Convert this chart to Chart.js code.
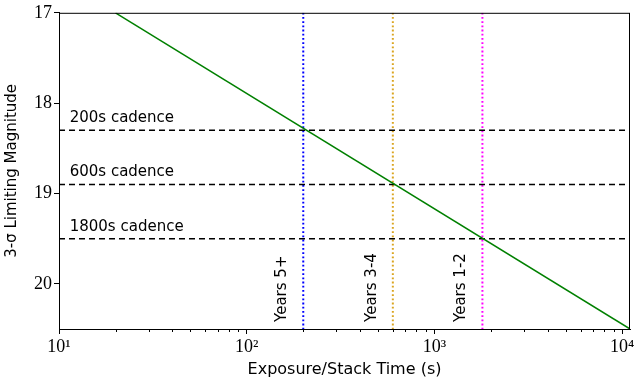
<!DOCTYPE html>
<html lang="en">
<head>
    <meta charset="UTF-8">
    <title>Limiting Magnitude vs Exposure Time</title>
    <style>
        body { margin: 0; background: #fff; }
        #wrap { width: 638px; height: 382px; }
    </style>
</head>
<body>
    <div id="wrap"><canvas id="magChart" width="638" height="382"></canvas></div>

    <script src="https://cdn.jsdelivr.net/npm/chart.js"></script>
    <script>
        // limiting magnitude curve (two ends of the straight line in log-x)
        const exposureTimes = [20, 11000];
        const limitingMags = [17.0, 20.5];

        // cadence levels (horizontal dashed lines)
        const cadenceLevels = [18.3, 18.9, 19.5];
        const cadenceLabels = ['200s cadence', '600s cadence', '1800s cadence'];

        // survey year markers (vertical dotted lines)
        const yearTimes = [200, 600, 1800];
        const yearLabels = ['Years 5+', 'Years 3-4', 'Years 1-2'];
        const yearColors = ['#0000ff', '#daa520', '#ff00ff'];

        // axes
        const xRange = [10, 11000];
        const yRange = [17, 20.5];
        const xMajor = [10, 100, 1000, 10000];
        const xMajorLabels = ['10¹', '10²', '10³', '10⁴'];
        const yTicks = [17, 18, 19, 20];

        const sans = 'DejaVu Sans';
        const serif = 'Liberation Serif';

        const datasets = [];
        datasets.push({
            data: exposureTimes.map((t, i) => ({ x: t, y: limitingMags[i] })),
            borderColor: 'green',
            borderWidth: 1.5
        });
        cadenceLevels.forEach(level => {
            datasets.push({
                data: [{ x: xRange[0], y: level }, { x: xRange[1], y: level }],
                borderColor: 'black',
                borderWidth: 1.5,
                borderDash: [6, 4]
            });
        });
        yearTimes.forEach((t, i) => {
            datasets.push({
                data: [{ x: t, y: yRange[0] }, { x: t, y: yRange[1] }],
                borderColor: yearColors[i],
                borderWidth: 2,
                borderDash: [1.8, 2.4]
            });
        });

        const extras = {
            id: 'extras',
            afterDraw(chart) {
                const ctx = chart.ctx;
                const a = chart.chartArea;
                const xs = chart.scales.x;
                const ys = chart.scales.y;
                ctx.save();

                // frame
                ctx.strokeStyle = 'black';
                ctx.lineWidth = 1;
                ctx.strokeRect(a.left + 0.5, a.top + 0.5, a.right - a.left - 1, a.bottom - a.top);

                // minor ticks on x
                ctx.beginPath();
                xs.ticks.forEach(tk => {
                    if (xMajor.includes(tk.value)) return;
                    const px = Math.round(xs.getPixelForValue(tk.value)) + 0.5;
                    ctx.moveTo(px, a.bottom);
                    ctx.lineTo(px, a.bottom + 3);
                });
                ctx.stroke();

                ctx.fillStyle = 'black';
                ctx.font = '15px "' + sans + '"';

                // cadence labels
                ctx.textAlign = 'left';
                ctx.textBaseline = 'alphabetic';
                cadenceLevels.forEach((level, i) => {
                    ctx.fillText(cadenceLabels[i], xs.getPixelForValue(11.4), ys.getPixelForValue(level) - 8);
                });

                // year labels, rotated
                yearTimes.forEach((t, i) => {
                    ctx.save();
                    ctx.translate(xs.getPixelForValue(t) - 21, a.bottom - 7);
                    ctx.rotate(-Math.PI / 2);
                    ctx.textBaseline = 'middle';
                    ctx.fillText(yearLabels[i], 0, 0);
                    ctx.restore();
                });
                ctx.restore();
            }
        };

        new Chart(document.getElementById('magChart'), {
            type: 'scatter',
            data: { datasets: datasets },
            options: {
                responsive: false,
                animation: false,
                showLine: true,
                elements: { point: { radius: 0 }, line: { tension: 0 } },
                layout: { padding: { top: 11, right: 8, left: 0, bottom: 0 } },
                plugins: { legend: { display: false }, tooltip: { enabled: false } },
                scales: {
                    x: {
                        type: 'logarithmic',
                        min: xRange[0],
                        max: xRange[1],
                        afterBuildTicks(scale) {
                            const ticks = [];
                            xMajor.forEach(base => {
                                for (let k = 1; k <= 9; k++) {
                                    const v = base * k;
                                    if (v >= xRange[0] && v <= xRange[1]) ticks.push({ value: v });
                                }
                            });
                            scale.ticks = ticks;
                        },
                        afterFit(scale) { scale.height = 53; },
                        grid: {
                            display: true,
                            drawOnChartArea: false,
                            tickLength: 5,
                            tickColor: c => xMajor.includes(c.tick && c.tick.value) ? 'black' : 'rgba(0,0,0,0)'
                        },
                        border: { display: true, color: 'black', width: 1 },
                        ticks: {
                            autoSkip: false,
                            maxRotation: 0,
                            padding: 2,
                            color: 'black',
                            font: { family: serif, size: 18 },
                            callback: v => {
                                const i = xMajor.indexOf(v);
                                return i >= 0 ? xMajorLabels[i] : '';
                            }
                        },
                        title: {
                            display: true,
                            text: 'Exposure/Stack Time (s)',
                            color: 'black',
                            font: { family: sans, size: 16 },
                            padding: { top: 0, bottom: 3 }
                        }
                    },
                    y: {
                        type: 'linear',
                        reverse: true,
                        min: yRange[0],
                        max: yRange[1],
                        afterBuildTicks(scale) {
                            scale.ticks = yTicks.map(v => ({ value: v }));
                        },
                        afterFit(scale) { scale.width = 59; },
                        grid: { display: true, drawOnChartArea: false, tickLength: 5, color: 'black' },
                        border: { display: true, color: 'black', width: 1 },
                        ticks: {
                            padding: 2,
                            color: 'black',
                            font: { family: serif, size: 18 }
                        },
                        title: {
                            display: true,
                            text: '3-σ Limiting Magnitude',
                            color: 'black',
                            font: { family: sans, size: 15 },
                            padding: { top: 3, bottom: 0 }
                        }
                    }
                }
            },
            plugins: [extras]
        });
    </script>
</body>
</html>
